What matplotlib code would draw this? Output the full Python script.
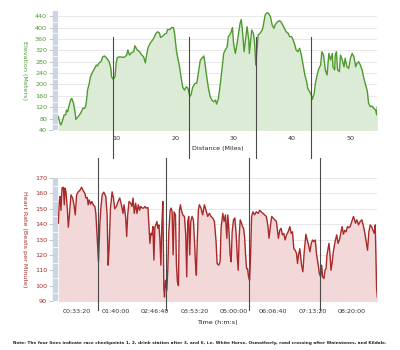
import matplotlib
matplotlib.use("Agg")
import matplotlib.pyplot as plt
from matplotlib.patches import Rectangle
from matplotlib.ticker import MultipleLocator, FuncFormatter
import numpy as np

# elevation profile: distance (miles) vs elevation (meters)
dist_mi = [0.0, 0.3, 0.46, 0.74, 1.0, 1.26, 1.4, 1.6, 1.8, 2.1, 2.3, 2.6, 2.9, 3.0, 3.4, 3.8, 4.2, 4.5,
           4.7, 4.9, 5.0, 5.3, 5.5, 5.9, 6.2, 6.5, 6.7, 7.0, 7.3, 7.6, 7.9, 8.3, 8.7, 9.0, 9.1, 9.4, 9.7,
           9.9, 10.1, 10.6, 11.1, 11.4, 11.7, 11.9, 12.2, 12.5, 12.9, 13.1, 13.5, 13.9, 14.3, 14.6, 14.9,
           15.1, 15.4, 15.8, 16.2, 16.4, 16.7, 17.0, 17.3, 17.5, 17.9, 18.2, 18.5, 18.7, 19.1, 19.4, 19.7,
           19.9, 20.2, 20.5, 20.7, 21.0, 21.3, 21.6, 21.9, 22.2, 22.5, 22.7, 23.0, 23.4, 23.7, 24.0, 24.3,
           24.9, 25.1, 25.4, 25.7, 26.0, 26.3, 26.6, 26.9, 27.1, 27.4, 27.7, 28.0, 28.3, 28.6, 28.9, 29.1,
           29.3, 29.5, 29.8, 30.0, 30.3, 30.6, 30.9, 31.1, 31.3, 31.5, 31.8, 32.1, 32.3, 32.6, 32.7, 33.0,
           33.1, 33.4, 33.6, 33.8, 34.0, 34.2, 34.5, 34.9, 35.1, 35.4, 35.7, 36.0, 36.3, 36.6, 36.9, 37.1,
           37.5, 37.9, 38.2, 38.5, 38.7, 39.0, 39.3, 39.6, 39.9, 40.2, 40.5, 40.7, 41.0, 41.3, 41.6, 41.9,
           42.2, 42.5, 42.7, 43.0, 43.3, 43.5, 43.8, 44.0, 44.3, 44.6, 44.9, 45.1, 45.4, 45.7, 46.0, 46.3,
           46.6, 46.9, 47.0, 47.3, 47.4, 47.6, 47.8, 48.1, 48.3, 48.6, 48.9, 49.1, 49.4, 49.7, 50.0, 50.3,
           50.6, 50.9, 51.1, 51.4, 51.7, 52.0, 52.3, 52.6, 52.9, 53.1, 53.4, 53.7, 54.0, 54.3, 54.5, 54.6]
elev_m = [87, 63, 58, 75, 93, 93, 110, 104, 122, 145, 151, 134, 98, 77, 87, 98, 116, 116,
          124, 157, 180, 204, 227, 245, 256, 268, 265, 276, 280, 297, 300, 292, 280, 256, 227, 218, 227,
          274, 295, 297, 295, 297, 303, 321, 303, 311, 315, 336, 321, 315, 303, 297, 276,
          303, 332, 347, 358, 365, 379, 385, 381, 365, 370, 377, 379, 393, 393, 400, 400,
          379, 321, 286, 268, 227, 190, 180, 192, 186, 157, 163, 190, 204, 204, 245, 285,
          300, 274, 227, 186, 157, 145, 139, 145, 131, 151, 198, 251, 309, 321, 332, 368,
          373, 379, 400, 344, 309, 344, 385, 414, 428, 391, 315, 368, 403, 356, 309, 373,
          391, 379, 344, 268, 321, 373, 379, 391, 409, 444, 452, 450, 438, 409, 397, 409,
          420, 424, 417, 405, 397, 385, 381, 368, 368, 356, 338, 321, 315, 327, 303, 268,
          233, 210, 186, 175, 163, 148, 169, 204, 233, 256, 268, 315, 303, 251, 233, 309,
          286, 309, 262, 251, 303, 315, 251, 245, 303, 286, 262, 292, 262, 256, 292, 309,
          297, 262, 274, 280, 268, 251, 221, 198, 175, 134, 122, 124, 116, 110, 93, 122]

# heart rate: elapsed time (s) vs beats per minute
time_s = [140, 245, 312, 413, 514, 650, 750, 818, 920, 1055, 1156, 1257, 1426, 1595, 1730, 1865, 2000,
          2169, 2338, 2506, 2675, 2844, 2945, 3080, 3181, 3283, 3418, 3553, 3688, 3857, 3958, 4060,
          4161, 4228, 4363, 4464, 4600, 4768, 4971, 5106, 5207, 5308, 5443, 5612, 5747, 5882, 6051,
          6220, 6389, 6558, 6726, 6828, 6997, 7098, 7199, 7334, 7503, 7638, 7739, 7874, 8009, 8144,
          8279, 8414, 8516, 8684, 8820, 8955, 9090, 9259, 9360, 9461, 9562, 9664, 9765, 9866, 9967,
          10068, 10170, 10271, 10372, 10473, 10575, 10676, 10777, 10879, 10946, 11047, 11182, 11283,
          11384, 11520, 11621, 11722, 11823, 11925, 12060, 12161, 12262, 12363, 12465, 12566, 12667,
          12802, 12971, 13107, 13208, 13309, 13410, 13512, 13613, 13748, 13883, 13984, 14086, 14187,
          14288, 14389, 14490, 14658, 14829, 15000, 15170, 15340, 15510, 15681, 15852, 16022, 16193,
          16295, 16465, 16602, 16704, 16874, 17011, 17147, 17284, 17386, 17488, 17625, 17727, 17830,
          17966, 18102, 18239, 18341, 18443, 18546, 18648, 18784, 18887, 18989, 19091, 19193, 19296,
          19398, 19500, 19602, 19705, 19807, 19944, 20114, 20285, 20490, 20626, 20796, 20967, 21137,
          21308, 21478, 21580, 21717, 21853, 21990, 22160, 22331, 22433, 22535, 22672, 22808, 22945,
          23081, 23218, 23354, 23524, 23695, 23831, 23968, 24104, 24241, 24377, 24480, 24582, 24718,
          24889, 25025, 25162, 25332, 25469, 25605, 25741, 25878, 26014, 26150, 26287, 26423, 26593,
          26696, 26832, 26934, 27037, 27173, 27275, 27378, 27480, 27582, 27685, 27787, 27889, 27992,
          28128, 28299, 28469, 28606, 28742, 28878, 29015, 29151, 29288, 29424, 29560, 29697, 29833,
          30003, 30174, 30276, 30379, 30515, 30685, 30856, 31026, 31197, 31333, 31470, 31606, 31743,
          31879, 32016, 32152, 32288, 32390, 32459, 32527, 32595]
heart_bpm = [140.6, 154.7, 158, 149, 163.5, 164, 152.6, 163.5, 161, 150, 138, 145, 159, 157, 152.6, 146, 159,
             161, 162, 164, 161.7, 160, 157, 157.4, 152.6, 155.8, 153, 154.7, 152.6, 151.5, 147, 135,
             122, 115.5, 139.5, 150, 159, 160.8, 158, 146, 113.3, 124, 150, 161, 157, 150, 151.5,
             154.7, 157, 152.6, 147, 152.6, 144, 132, 146, 154.7, 153.6, 151.5, 157, 147, 153.6, 147,
             152.6, 149, 151.5, 150.4, 150.4, 151.5, 150.4, 150.8, 139.5, 127.5, 134, 133, 138.4, 116.6, 138.4,
             139.5, 141.7, 137.3, 139.5, 130.8, 113.3, 139.5, 154.7, 98, 92.6, 103.5, 97, 111,
             135, 149, 150.4, 148, 120, 148, 146, 113.3, 102.4, 100, 149, 152.6, 149,
             146, 145, 133, 105.7, 141.7, 145, 120, 141.7, 145, 142.8, 130.8, 115.5, 106.8,
             130.8, 149, 152.6, 150.4, 146, 152.6, 149, 145, 147, 145, 144, 141.7, 128.6,
             114.4, 113.3, 115.5, 137.3, 147, 141.7, 146, 130.8, 146, 137.3, 120, 115.5, 135,
             142.8, 144, 133, 120, 110, 132, 142.8, 140.6, 138.4, 137.3, 132, 120, 111,
             111, 105.7, 103.5, 120, 145, 148, 146, 148, 147, 149, 148, 147, 146,
             145, 138.4, 130.8, 138.4, 145, 144, 142.8, 141.7, 136, 130.8, 136, 137.3, 133,
             134, 129.7, 133, 135, 138.4, 134, 135, 124, 123, 121, 114.4, 120, 124,
             113.3, 109, 122, 133.4, 129.7, 126.4, 122, 127.5, 129.7, 128.6, 129.7, 120, 113.3,
             108, 105.7, 113.3, 105.7, 104.6, 110, 111, 120, 124, 127.5, 120, 110, 114.4,
             122, 128.6, 133, 127.5, 129.7, 134, 138.4, 133.4, 136, 135, 138.4, 137.7, 138.4,
             141.7, 145, 142.8, 140.6, 142.8, 139.5, 141.7, 142.8, 138.4, 134, 128.6, 123, 135,
             139.5, 138.4, 136, 134, 139.5, 120, 98, 92.6]

# checkpoints (cp 1, cp 2, drink station after 3, cp 6)
checkpoint_mi = [9.4, 22.4, 33.9, 43.25]
checkpoint_s = [4130, 11060, 19530, 26750]

elev_ticks = list(range(40, 441, 40))
dist_ticks = [10, 20, 30, 40, 50]
hr_ticks = list(range(90, 171, 10))
time_ticks = [2000, 6000, 10000, 14000, 18000, 22000, 26000, 30000]

GREEN = "#4f9a2f"
RED = "#a82a2a"
BAR = "#c9d5e4"
GRID = "#e4e4e4"
CP = "#4a4a4a"
FS = 4.6


def hms(v, pos=None):
    v = int(round(v))
    return "%02d:%02d:%02d" % (v // 3600, (v % 3600) // 60, v % 60)


def style_axes(ax, label_color):
    for s in ["top", "right", "bottom"]:
        ax.spines[s].set_visible(False)
    ax.spines["left"].set_position(("outward", 3.6))
    ax.spines["left"].set_color(BAR)
    ax.spines["left"].set_linewidth(0.3)
    ax.grid(axis="y", color=GRID, linewidth=0.6)
    ax.set_axisbelow(True)
    ax.tick_params(axis="y", which="major", length=3, width=0.5, color="#b0b0b0",
                   labelsize=FS, labelcolor=label_color, pad=1.5)
    ax.tick_params(axis="y", which="minor", direction="in", length=3.6, width=0.6,
                   color="white")
    ax.tick_params(axis="x", length=0, labelsize=FS, labelcolor="#333333")
    # light bar along the y axis
    ax.add_patch(Rectangle((-5 / 319, 0), 5 / 319, 1, transform=ax.transAxes,
                           facecolor=BAR, edgecolor="none", clip_on=False, zorder=0.5))


fig = plt.figure(figsize=(4, 3.5), dpi=100)

# elevation
ax1 = fig.add_axes([0.1458, 0.6286, 0.7975, 0.34])
ax1.fill_between(dist_mi, elev_m, 0, color="#dcebd5", linewidth=0)
ax1.plot(dist_mi, elev_m, color=GREEN, linewidth=1.0)
ax1.set_xlim(0, 54.6)
ax1.set_ylim(40, 458)
ax1.set_yticks(elev_ticks)
ax1.yaxis.set_minor_locator(MultipleLocator(20))
ax1.set_xticks(dist_ticks)
style_axes(ax1, GREEN)
ax1.tick_params(axis="x", pad=4)
ax1.set_ylabel("Elevation (Meters)", color=GREEN, fontsize=FS, rotation=-90,
               labelpad=14, va="center")
ax1.yaxis.set_label_coords(-0.105, 0.5)
ax1.set_xlabel("Distance (Miles)", fontsize=FS, color="#222222", labelpad=4)
for m in checkpoint_mi:
    ax1.axvline(m, ymin=-0.235, ymax=0.78, color=CP, linewidth=0.8, clip_on=False, zorder=5)

# heart rate
ax2 = fig.add_axes([0.1458, 0.14, 0.7975, 0.3514])
ax2.fill_between(time_s, heart_bpm, 0, color="#f2d8d8", linewidth=0)
ax2.plot(time_s, heart_bpm, color=RED, linewidth=1.0)
ax2.set_xlim(140, 32600)
ax2.set_ylim(90, 170)
ax2.set_yticks(hr_ticks)
ax2.yaxis.set_minor_locator(MultipleLocator(5))
ax2.set_xticks(time_ticks)
ax2.xaxis.set_major_formatter(FuncFormatter(hms))
style_axes(ax2, RED)
ax2.tick_params(axis="x", pad=6)
ax2.set_ylabel("Heart Rate (Beats per Minute)", color=RED, fontsize=FS, rotation=-90,
               va="center")
ax2.yaxis.set_label_coords(-0.105, 0.5)
ax2.set_xlabel("Time (h:m:s)", fontsize=FS, color="#222222", labelpad=4)
for t in checkpoint_s:
    ax2.axvline(t, ymin=-0.075, ymax=1.165, color=CP, linewidth=0.8, clip_on=False, zorder=5)

fig.text(0.5, 0.02, "Note: The four lines indicate race checkpoints 1, 2, drink station after 3, and 6, "
         "i.e. White Horse, Osmotherly, road crossing after Wainstones, and Kildale.",
         ha="center", va="center", fontsize=3.1, fontweight="bold", color="#222222")

fig.savefig("out.png", dpi=100, facecolor="white")
